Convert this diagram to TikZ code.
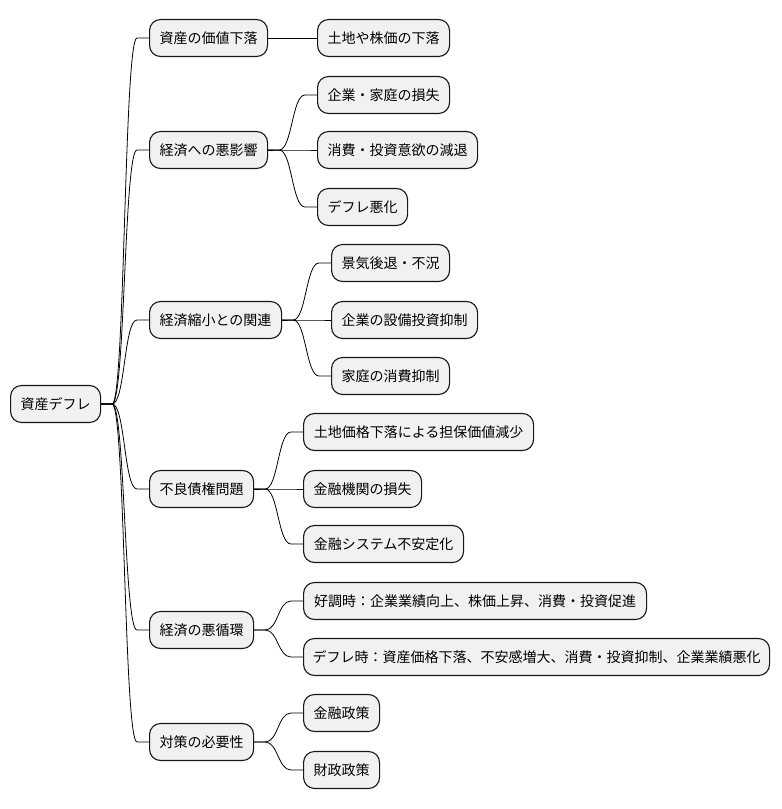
\documentclass[tikz,border=0pt]{standalone}
\usepackage{fontspec}
\setmainfont{Noto Sans CJK JP}
\usetikzlibrary{calc}
\definecolor{boxfill}{HTML}{F1F1F1}
\definecolor{boxline}{HTML}{181818}
\tikzset{
  mmbox/.style={draw=boxline, fill=boxfill, line width=1.1pt, rounded corners=11pt,
    minimum height=37pt, inner sep=0pt, anchor=west, align=center, font=\fontsize{14pt}{16pt}\selectfont},
  mmlink/.style={draw=black, line width=0.8pt,
    to path={-- ++(11,0) .. controls +(13,0) and +(-13,0) .. ($(\tikztotarget.west)+(-12,0)$) -- (\tikztotarget.west)}},
  mmstraight/.style={draw=black, line width=0.8pt}
}
\begin{document}
\begin{tikzpicture}[x=1pt,y=-1pt]
\useasboundingbox (0,0) rectangle (782,809);
\node[mmbox, minimum width=90pt] (root) at (10,404) {資産デフレ};

\node[mmbox, minimum width=118pt] (a) at (149,38) {資産の価値下落};
\node[mmbox, minimum width=118pt] (b) at (149,150) {経済への悪影響};
\node[mmbox, minimum width=132pt] (c) at (149,320) {経済縮小との関連};
\node[mmbox, minimum width=104pt] (d) at (149,489) {不良債権問題};
\node[mmbox, minimum width=104pt] (e) at (149,630) {経済の悪循環};
\node[mmbox, minimum width=104pt] (f) at (149,742) {対策の必要性};

\node[mmbox, minimum width=132pt] (a1) at (317,38) {土地や株価の下落};
\node[mmbox, minimum width=132pt] (b1) at (317,95) {企業・家庭の損失};
\node[mmbox, minimum width=160pt] (b2) at (317,150) {消費・投資意欲の減退};
\node[mmbox, minimum width=90pt] (b3) at (317,207) {デフレ悪化};
\node[mmbox, minimum width=118pt] (c1) at (331,263) {景気後退・不況};
\node[mmbox, minimum width=146pt] (c2) at (331,320) {企業の設備投資抑制};
\node[mmbox, minimum width=118pt] (c3) at (331,376) {家庭の消費抑制};
\node[mmbox, minimum width=230pt] (d1) at (303,432) {土地価格下落による担保価値減少};
\node[mmbox, minimum width=118pt] (d2) at (303,489) {金融機関の損失};
\node[mmbox, minimum width=160pt] (d3) at (303,544) {金融システム不安定化};
\node[mmbox, minimum width=343pt] (e1) at (303,601) {好調時：企業業績向上、株価上昇、消費・投資促進};
\node[mmbox, minimum width=466pt] (e2) at (303,657) {デフレ時：資産価格下落、不安感増大、消費・投資抑制、企業業績悪化};
\node[mmbox, minimum width=76pt] (f1) at (303,713) {金融政策};
\node[mmbox, minimum width=76pt] (f2) at (303,770) {財政政策};

\foreach \t in {a,b,c,d,e,f} \draw[mmlink] (root.east) to (\t);
\draw[mmstraight] (a.east) -- (a1.west);
\foreach \t in {b1,b2,b3} \draw[mmlink] (b.east) to (\t);
\foreach \t in {c1,c2,c3} \draw[mmlink] (c.east) to (\t);
\foreach \t in {d1,d2,d3} \draw[mmlink] (d.east) to (\t);
\foreach \t in {e1,e2} \draw[mmlink] (e.east) to (\t);
\foreach \t in {f1,f2} \draw[mmlink] (f.east) to (\t);
\end{tikzpicture}
\end{document}
